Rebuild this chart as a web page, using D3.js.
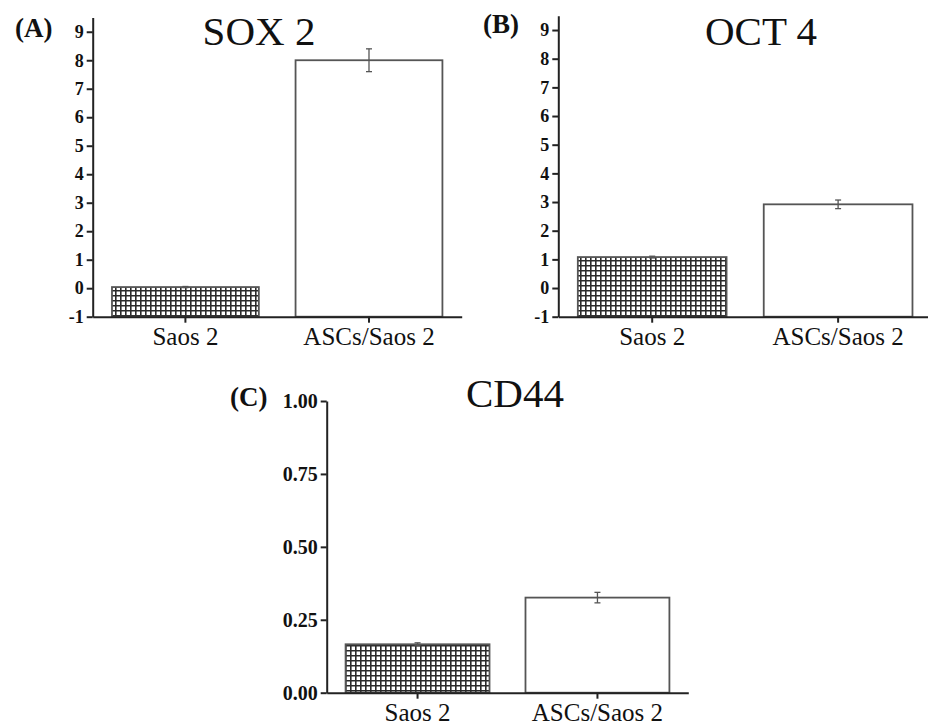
<!DOCTYPE html>
<html>
<head>
<meta charset="utf-8">
<script src="https://cdn.jsdelivr.net/npm/d3@7"></script>
<style>
  body { margin: 0; background: #fff; }
  .axis .domain, .axis .tick line { stroke: #222; stroke-width: 2; }
</style>
</head>
<body>
<div id="chart"></div>
<script>
// values
const groups = ['Saos 2', 'ASCs/Saos 2'];
const sox2Values = [0.04, 8.0];
const sox2Errors = [0.02, 0.4];
const oct4Values = [1.08, 2.92];
const oct4Errors = [0.03, 0.15];
const cd44Values = [0.166, 0.326];
const cd44Errors = [0.005, 0.018];
const foldTicks = [-1, 0, 1, 2, 3, 4, 5, 6, 7, 8, 9];
const cd44Ticks = [0, 0.25, 0.5, 0.75, 1.0];

const width = 928, height = 727;
const serif = '"Liberation Serif", "Times New Roman", Times, serif';

const svg = d3.select('#chart')
    .append('svg')
    .attr('width', width)
    .attr('height', height);

// cross-hatch fill for the Saos 2 bars
const pattern = svg.append('defs').append('pattern')
    .attr('id', 'hatch')
    .attr('patternUnits', 'userSpaceOnUse')
    .attr('width', 5)
    .attr('height', 5);
pattern.append('rect').attr('width', 5).attr('height', 5).attr('fill', '#fff');
pattern.append('path')
    .attr('d', 'M0,0.8H5M0.8,0V5')
    .attr('stroke', '#2a2a2a')
    .attr('stroke-width', 1.6);

// plain hyphen for negatives, like the figure
const intFmt = d => String(d);

const panels = [
    { label: '(A)', title: 'SOX 2', values: sox2Values, errors: sox2Errors, ticks: foldTicks,
      fmt: intFmt, domain: [-1, 9.5], base: -1,
      x0: 92.7, x1: 461.7, yBottom: 316.7, yTop: 17.5, tickFont: 18,
      titleX: 259, titleY: 45, labelX: 15, labelY: 37 },
    { label: '(B)', title: 'OCT 4', values: oct4Values, errors: oct4Errors, ticks: foldTicks,
      fmt: intFmt, domain: [-1, 9.5], base: -1,
      x0: 558.3, x1: 932, yBottom: 316.7, yTop: 15.7, tickFont: 18,
      titleX: 761, titleY: 45, labelX: 483, labelY: 33 },
    { label: '(C)', title: 'CD44', values: cd44Values, errors: cd44Errors, ticks: cd44Ticks,
      fmt: d3.format('.2f'), domain: [0, 1], base: 0,
      x0: 326.7, x1: 688.3, yBottom: 692.7, yTop: 401, tickFont: 20,
      titleX: 515, titleY: 407, labelX: 230, labelY: 406 }
];

panels.forEach(p => {
    const g = svg.append('g');

    const data = groups.map((name, i) => ({ name, value: p.values[i], err: p.errors[i] }));

    const x = d3.scaleBand()
        .domain(groups)
        .range([p.x0, p.x1])
        .paddingInner(0.2)
        .paddingOuter(0.105);

    const y = d3.scaleLinear()
        .domain(p.domain)
        .range([p.yBottom, p.yTop]);

    // bars
    g.selectAll('.bar')
        .data(data)
        .enter()
        .append('rect')
        .attr('class', 'bar')
        .attr('x', d => x(d.name))
        .attr('y', d => y(d.value))
        .attr('width', x.bandwidth())
        .attr('height', d => y(p.base) - y(d.value))
        .attr('fill', (d, i) => i === 0 ? 'url(#hatch)' : '#fff')
        .attr('stroke', '#555')
        .attr('stroke-width', 1.8);

    // error bars
    const eb = g.selectAll('.err')
        .data(data)
        .enter()
        .append('g')
        .attr('class', 'err')
        .attr('stroke', '#555')
        .attr('stroke-width', 1.3);
    eb.append('line')
        .attr('x1', d => x(d.name) + x.bandwidth() / 2)
        .attr('x2', d => x(d.name) + x.bandwidth() / 2)
        .attr('y1', d => y(d.value + d.err))
        .attr('y2', d => y(d.value - d.err));
    [1, -1].forEach(s => {
        eb.append('line')
            .attr('x1', d => x(d.name) + x.bandwidth() / 2 - 3)
            .attr('x2', d => x(d.name) + x.bandwidth() / 2 + 3)
            .attr('y1', d => y(d.value + s * d.err))
            .attr('y2', d => y(d.value + s * d.err));
    });

    // axes
    const yAxis = d3.axisLeft(y)
        .tickValues(p.ticks)
        .tickFormat(p.fmt)
        .tickSize(6)
        .tickSizeOuter(0);
    g.append('g')
        .attr('class', 'axis')
        .attr('transform', `translate(${p.x0},0)`)
        .call(yAxis)
        .attr('font-family', serif)
        .selectAll('text')
        .attr('fill', '#111')
        .style('font-family', serif)
        .style('font-weight', 'bold')
        .style('font-size', p.tickFont + 'px');

    const xAxis = d3.axisBottom(x)
        .tickSize(6)
        .tickSizeOuter(0)
        .tickPadding(5);
    g.append('g')
        .attr('class', 'axis')
        .attr('transform', `translate(0,${y(p.base)})`)
        .call(xAxis)
        .attr('font-family', serif)
        .selectAll('text')
        .attr('fill', '#111')
        .style('font-family', serif)
        .style('font-size', '25px');

    // titles
    g.append('text')
        .attr('x', p.titleX)
        .attr('y', p.titleY)
        .attr('text-anchor', 'middle')
        .attr('fill', '#111')
        .style('font-family', serif)
        .style('font-size', '41px')
        .text(p.title);

    g.append('text')
        .attr('x', p.labelX)
        .attr('y', p.labelY)
        .attr('fill', '#111')
        .style('font-family', serif)
        .style('font-size', '27px')
        .style('font-weight', 'bold')
        .text(p.label);
});
</script>
</body>
</html>
